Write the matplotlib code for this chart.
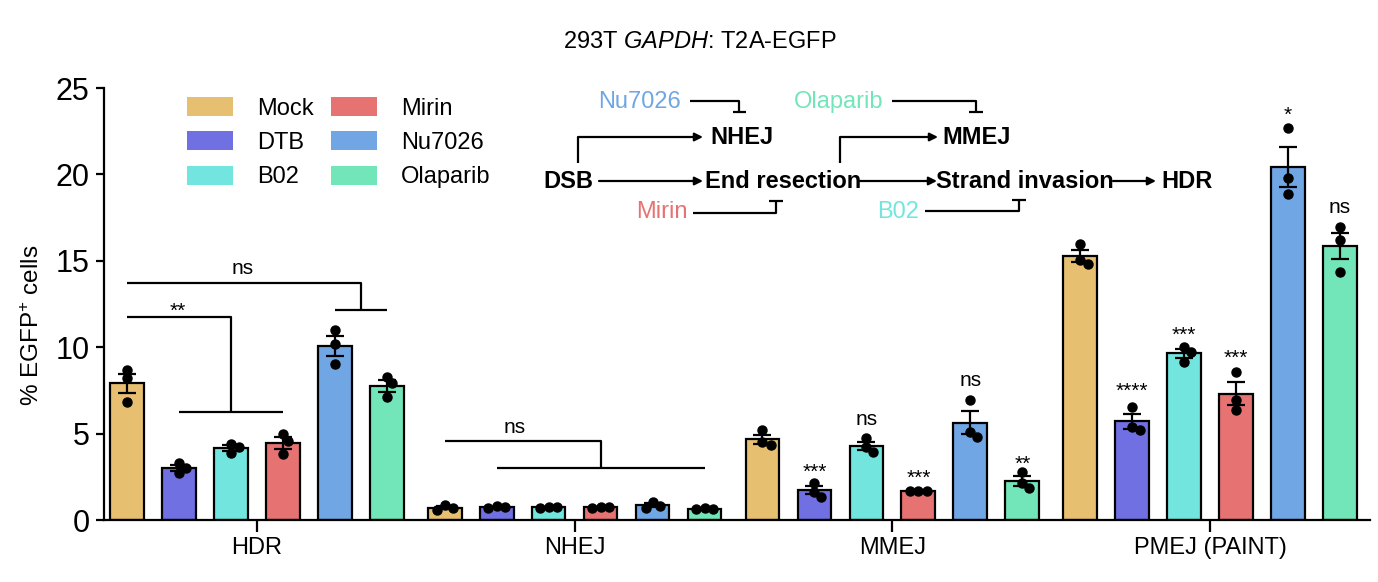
import numpy as np
import matplotlib
matplotlib.use("Agg")
import matplotlib.pyplot as plt
from matplotlib.patches import Patch, FancyArrowPatch
from matplotlib.lines import Line2D

plt.rcParams['font.family'] = ['Liberation Sans', 'DejaVu Sans']
plt.rcParams['mathtext.fontset'] = 'custom'
plt.rcParams['mathtext.rm'] = 'Liberation Sans'
plt.rcParams['mathtext.it'] = 'Liberation Sans:italic'
plt.rcParams['mathtext.bf'] = 'Liberation Sans:bold'

# ---------------- data ----------------
groups = ["HDR", "NHEJ", "MMEJ", "PMEJ (PAINT)"]
treatments = ["Mock", "DTB", "B02", "Mirin", "Nu7026", "Olaparib"]
colors = ["#E6C070", "#7070E2", "#72E6DE", "#E67272", "#70A6E4", "#72E6B8"]

hdr_reps = [[8.7, 8.2, 6.8], [3.3, 3.0, 2.7], [4.4, 4.2, 3.9],
            [5.0, 4.6, 3.8], [11.0, 10.2, 9.0], [8.3, 7.9, 7.1]]
nhej_reps = [[0.85, 0.72, 0.60], [0.80, 0.75, 0.70], [0.78, 0.75, 0.68],
             [0.77, 0.75, 0.72], [1.05, 0.82, 0.72], [0.68, 0.66, 0.64]]
mmej_reps = [[5.2, 4.5, 4.35], [2.16, 1.64, 1.35], [4.74, 4.24, 3.95],
             [1.70, 1.68, 1.66], [6.94, 5.10, 4.82], [2.80, 2.12, 1.83]]
pmej_reps = [[16.0, 15.05, 14.8], [6.54, 5.38, 5.2], [10.03, 9.74, 9.16],
             [8.58, 6.94, 6.37], [22.67, 19.77, 18.87], [16.97, 16.2, 14.37]]
all_reps = [hdr_reps, nhej_reps, mmej_reps, pmej_reps]

mmej_sig = ["", "***", "ns", "***", "ns", "**"]
mmej_sig_y = [0, 3.1, 5.8, 2.8, 8.1, 3.6]
pmej_sig = ["", "****", "***", "***", "*", "ns"]
pmej_sig_y = [0, 7.8, 11.05, 9.7, 23.8, 18.1]

yticks = [0, 5, 10, 15, 20, 25]

# ---------------- layout ----------------
W, H = 1378, 582
def fx(px):
    return px / W
def fy(py):
    return 1 - py / H

GROUP_STEP = 6.115
BAR_W = 0.65

fig = plt.figure(figsize=(W / 100, H / 100), dpi=100)
ax = fig.add_axes([fx(104), fy(520), 1266 / W, 432 / H])
ax.set_xlim(-0.44, 23.92)
ax.set_ylim(0, 25)

px_per_x = 1266 / (23.92 + 0.44)
px_per_y = 432 / 25.0

def swarm(ys, dmin=8.5):
    placed = []
    offs = []
    for y in ys:
        yp = y * px_per_y
        cands = [0.0]
        for (px_, py_) in placed:
            dy = abs(py_ - yp)
            if dy < dmin:
                dx = np.sqrt(dmin ** 2 - dy ** 2)
                cands += [px_ + dx, px_ - dx]
        cands = sorted(cands, key=lambda c: (abs(c), -c))
        for c in cands:
            ok = all((c - a) ** 2 + (yp - b) ** 2 >= dmin ** 2 - 1e-6 for a, b in placed)
            if ok:
                placed.append((c, yp))
                offs.append(c / px_per_x)
                break
    return np.array(offs)

def xpos(g, i):
    return g * GROUP_STEP + i

for g, reps in enumerate(all_reps):
    for i, vals in enumerate(reps):
        vals = np.array(vals)
        m = vals.mean()
        sem = vals.std(ddof=1) / np.sqrt(len(vals))
        x = xpos(g, i)
        ax.bar(x, m, width=BAR_W, color=colors[i], edgecolor="black", linewidth=1.6, zorder=2)
        ax.errorbar(x, m, yerr=sem, fmt="none", ecolor="black", elinewidth=1.6,
                    capsize=6.5, capthick=1.6, zorder=3)
        ax.plot(x + swarm(vals), vals, "o", color="black", ms=6.5, zorder=4)

# per-bar significance labels
def sig_text(x, y, s):
    if "*" in s:
        ax.annotate(s, (x, y), xytext=(0, -8.5), textcoords="offset points",
                    ha="center", va="baseline", fontsize=15, zorder=5)
    else:
        ax.annotate(s, (x, y), xytext=(0, -4), textcoords="offset points",
                    ha="center", va="baseline", fontsize=15, zorder=5)

for i, s in enumerate(mmej_sig):
    if s:
        sig_text(xpos(2, i), mmej_sig_y[i], s)
for i, s in enumerate(pmej_sig):
    if s:
        sig_text(xpos(3, i), pmej_sig_y[i], s)

# comparison brackets
lk = dict(color="black", lw=1.6, zorder=5, solid_capstyle="butt")
# HDR ns
ax.plot([xpos(0, 0), xpos(0, 4.5), xpos(0, 4.5)], [13.7, 13.7, 12.15], **lk)
ax.plot([xpos(0, 4), xpos(0, 5)], [12.15, 12.15], **lk)
sig_text(xpos(0, 2.23), 14.58, "ns")
# HDR **
ax.plot([xpos(0, 0), xpos(0, 2), xpos(0, 2)], [11.75, 11.75, 6.25], **lk)
ax.plot([xpos(0, 1), xpos(0, 3)], [6.25, 6.25], **lk)
sig_text(xpos(0, 0.98), 12.44, "**")
# NHEJ ns
ax.plot([xpos(1, 0), xpos(1, 3), xpos(1, 3)], [4.57, 4.57, 3.0], **lk)
ax.plot([xpos(1, 1), xpos(1, 5)], [3.0, 3.0], **lk)
sig_text(xpos(1, 1.35), 5.38, "ns")

# axes styling
ax.spines["top"].set_visible(False)
ax.spines["right"].set_visible(False)
ax.spines["left"].set_linewidth(1.6)
ax.spines["bottom"].set_linewidth(1.6)
ax.set_xticks([xpos(g, 2.5) for g in range(len(groups))])
ax.set_xticklabels(groups, fontsize=17)
ax.set_yticks(yticks)
ax.set_yticklabels([str(v) for v in yticks], fontsize=22)
ax.tick_params(axis="x", length=8.5, width=1.6, pad=4)
ax.tick_params(axis="y", length=5.5, width=1.6, pad=5)

fig.text(fx(33), fy(325), r"% EGFP$^{+}$ cells", rotation=90, ha="center", va="center",
         fontsize=17.5)
fig.text(fx(700), fy(42), r"293T $\mathit{GAPDH}$: T2A-EGFP", ha="center", va="center",
         fontsize=17)

# legend
handles = [Patch(facecolor=c, edgecolor="none", label=t) for c, t in zip(colors, treatments)]
ax.legend(handles=handles, ncol=2, loc="upper left",
          bbox_to_anchor=(fx(187), fy(97)), bbox_transform=fig.transFigure,
          frameon=False, fontsize=17, handlelength=1.95, handleheight=0.85,
          handletextpad=1.0, columnspacing=0.75, labelspacing=0.5,
          borderpad=0, borderaxespad=0)

# ---------------- pathway diagram ----------------
def fline(xs, ys, color="black"):
    fig.add_artist(Line2D([fx(v) for v in xs], [fy(v) for v in ys], color=color,
                          lw=1.6, transform=fig.transFigure, solid_capstyle="butt"))

def farrow(x0, y0, x1, y1):
    fig.add_artist(FancyArrowPatch((fx(x0), fy(y0)), (fx(x1), fy(y1)),
                                   transform=fig.transFigure, arrowstyle="-|>",
                                   mutation_scale=12, lw=1.6, color="black",
                                   shrinkA=0, shrinkB=0))

def ftext(x, y, s, bold=False, color="black"):
    fig.text(fx(x), fy(y), s, ha="center", va="center", fontsize=17,
             fontweight="bold" if bold else "normal", color=color)

ftext(568, 181, "DSB", bold=True)
ftext(783, 181, "End resection", bold=True)
ftext(1025, 181, "Strand invasion", bold=True)
ftext(1187, 181, "HDR", bold=True)
ftext(742, 138, "NHEJ", bold=True)
ftext(977, 138, "MMEJ", bold=True)
ftext(640, 102, "Nu7026", color=colors[4])
ftext(839, 102, "Olaparib", color=colors[5])
ftext(662, 212, "Mirin", color=colors[3])
ftext(898, 212, "B02", color=colors[2])

fline([578, 578], [163, 137])
farrow(578, 137, 703, 137)
farrow(599, 181, 703, 181)
farrow(860, 181, 937, 181)
fline([840, 840], [163, 137])
farrow(840, 137, 938, 137)
farrow(1113, 181, 1156, 181)

fline([690, 739, 739], [101, 101, 112])
fline([733, 746], [112, 112])
fline([892, 976, 976], [101, 101, 112])
fline([969, 983], [112, 112])
fline([693, 776, 776], [213, 213, 201])
fline([769, 783], [201, 201])
fline([925, 1019, 1019], [211, 211, 200])
fline([1012, 1026], [200, 200])

fig.savefig("out.png", dpi=100)
